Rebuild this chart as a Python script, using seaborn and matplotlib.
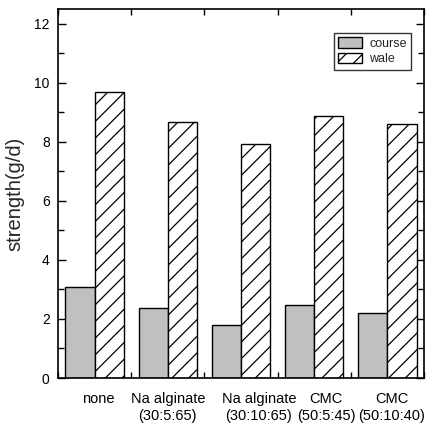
import matplotlib
matplotlib.use("Agg")
import matplotlib.pyplot as plt
import matplotlib.transforms as mtransforms
from matplotlib.patches import Patch
from matplotlib.ticker import MultipleLocator
import seaborn as sns
import pandas as pd

categories = ["none", "Na alginate\n(30:5:65)", "Na alginate\n(30:10:65)",
              "CMC\n(50:5:45)", "CMC\n(50:10:40)"]
course = [3.08, 2.37, 1.81, 2.48, 2.20]
wale = [9.70, 8.68, 7.93, 8.89, 8.60]
series = ["course", "wale"]

df = pd.DataFrame({
    "category": categories * 2,
    "value": course + wale,
    "series": [series[0]] * len(categories) + [series[1]] * len(categories),
})

sns.set_style("ticks")
plt.rcParams["font.family"] = ["Liberation Sans", "DejaVu Sans"]
plt.rcParams["hatch.linewidth"] = 0.9

fig = plt.figure(figsize=(4.34, 4.26), dpi=100)
ax = fig.add_axes([58 / 434, 1 - 378 / 426, (424 - 58) / 434, (378 - 9) / 426])

sns.barplot(data=df, x="category", y="value", hue="series", order=categories,
            hue_order=series, palette=["#c0c0c0", "white"], width=0.8,
            edgecolor="black", linewidth=1.0, saturation=1, ax=ax, legend=False)

n = len(categories)
for i, p in enumerate(ax.patches[:2 * n]):
    if i >= n:
        p.set_hatch("//")
        p.set_facecolor("white")
    p.set_edgecolor("black")

ax.set_xlim(-0.5, 4.5)
ax.set_ylim(0, 12.5)
ax.yaxis.set_major_locator(MultipleLocator(2))
ax.yaxis.set_minor_locator(MultipleLocator(1))
ax.xaxis.set_minor_locator(MultipleLocator(0.5))

ax.set_xlabel("")
ax.set_ylabel("strength(g/d)", fontsize=14.5, labelpad=7)

ax.tick_params(axis="both", which="both", direction="in", top=True, right=True,
               width=1.0, colors="black")
ax.tick_params(axis="y", which="major", length=6, labelsize=10, pad=6)
ax.tick_params(axis="y", which="minor", length=4)
ax.tick_params(axis="x", which="major", length=0, labelsize=10.5, pad=10)
ax.tick_params(axis="x", which="minor", length=4)

label_shift_px = [4, 0, 18, 12, 4]
for lab, dx in zip(ax.get_xticklabels(), label_shift_px):
    lab.set_transform(lab.get_transform() +
                      mtransforms.ScaledTranslation(dx / 100, 0, fig.dpi_scale_trans))
    lab.set_linespacing(1.25)

for s in ax.spines.values():
    s.set_visible(True)
    s.set_linewidth(1.2)
    s.set_color("black")

handles = [Patch(facecolor="#c0c0c0", edgecolor="black", label=series[0]),
           Patch(facecolor="white", edgecolor="black", hatch="//", label=series[1])]
leg = ax.legend(handles=handles, loc="upper right",
                bbox_to_anchor=(0.9645, 0.935), borderaxespad=0, fontsize=9,
                frameon=True, fancybox=False, edgecolor="black",
                handlelength=1.9, handleheight=0.9, borderpad=0.35,
                labelspacing=0.25, handletextpad=0.6)
leg.get_frame().set_linewidth(1.0)

fig.savefig("out.png", dpi=100)
